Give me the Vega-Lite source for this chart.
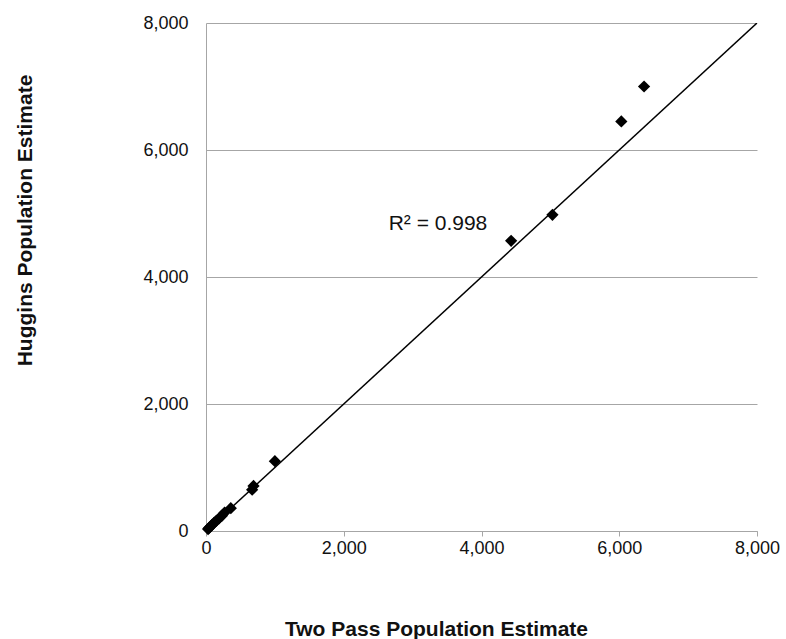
{
  "$schema": "https://vega.github.io/schema/vega-lite/v6.json",
  "width": 551,
  "height": 508,
  "autosize": "none",
  "padding": {"left": 206, "top": 23, "right": 29, "bottom": 108},
  "background": "white",
  "config": {"view": {"stroke": null}, "font": "Liberation Sans"},
  "datasets": {
    "points": [
      {"two_pass": 6360, "huggins": 7000},
      {"two_pass": 6030, "huggins": 6450},
      {"two_pass": 5030, "huggins": 4980},
      {"two_pass": 4430, "huggins": 4570},
      {"two_pass": 1000, "huggins": 1100},
      {"two_pass": 690, "huggins": 710},
      {"two_pass": 670, "huggins": 650},
      {"two_pass": 360, "huggins": 360},
      {"two_pass": 270, "huggins": 290},
      {"two_pass": 230, "huggins": 240},
      {"two_pass": 190, "huggins": 200},
      {"two_pass": 150, "huggins": 160},
      {"two_pass": 120, "huggins": 130},
      {"two_pass": 90, "huggins": 100},
      {"two_pass": 65, "huggins": 70},
      {"two_pass": 45, "huggins": 50},
      {"two_pass": 30, "huggins": 30}
    ],
    "fit": [
      {"two_pass": 0, "huggins": 0},
      {"two_pass": 8000, "huggins": 8000}
    ],
    "note": [
      {"two_pass": 3368, "huggins": 4835, "label": "R² = 0.998"}
    ]
  },
  "layer": [
    {
      "data": {"name": "fit"},
      "mark": {"type": "line", "color": "black", "strokeWidth": 1.5, "clip": true},
      "encoding": {
        "x": {"field": "two_pass", "type": "quantitative"},
        "y": {"field": "huggins", "type": "quantitative"}
      }
    },
    {
      "data": {"name": "points"},
      "mark": {"type": "point", "shape": "diamond", "filled": true, "color": "black", "opacity": 1, "size": 150},
      "encoding": {
        "x": {
          "field": "two_pass",
          "type": "quantitative",
          "scale": {"domain": [0, 8000], "nice": false},
          "axis": {
            "values": [0, 2000, 4000, 6000, 8000],
            "format": ",.0f",
            "grid": false,
            "domainColor": "#a6a6a6",
            "tickColor": "#a6a6a6",
            "tickSize": 5,
            "labelFontSize": 18,
            "labelColor": "#111111",
            "labelPadding": 3,
            "labelFlush": false,
            "labelOverlap": false,
            "title": "Two Pass Population Estimate",
            "titleFontSize": 21,
            "titleFontWeight": "bold",
            "titleColor": "#111111",
            "titleX": 230,
            "titleY": 104,
            "titleBaseline": "alphabetic",
            "titleAlign": "center"
          }
        },
        "y": {
          "field": "huggins",
          "type": "quantitative",
          "scale": {"domain": [0, 8000], "nice": false},
          "axis": {
            "values": [0, 2000, 4000, 6000, 8000],
            "format": ",.0f",
            "grid": true,
            "gridColor": "#a6a6a6",
            "domainColor": "#a6a6a6",
            "ticks": false,
            "labelFontSize": 18,
            "labelColor": "#111111",
            "labelPadding": 18,
            "labelOverlap": false,
            "title": "Huggins Population Estimate",
            "titleFontSize": 21,
            "titleFontWeight": "bold",
            "titleColor": "#111111",
            "titleAngle": -90,
            "titleX": -175,
            "titleY": 197,
            "titleBaseline": "alphabetic",
            "titleAlign": "center"
          }
        }
      }
    },
    {
      "data": {"name": "note"},
      "mark": {"type": "text", "fontSize": 21, "align": "center", "baseline": "middle", "color": "#111111"},
      "encoding": {
        "x": {"field": "two_pass", "type": "quantitative"},
        "y": {"field": "huggins", "type": "quantitative"},
        "text": {"field": "label"}
      }
    }
  ]
}
